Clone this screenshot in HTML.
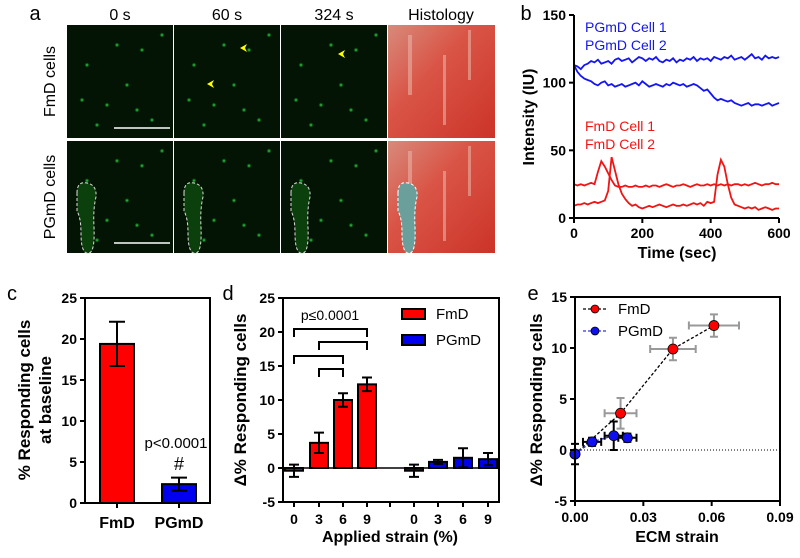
<!DOCTYPE html>
<html><head><meta charset="utf-8"><style>
body{margin:0;background:#fff}
svg{display:block;font-family:"Liberation Sans",Arial,sans-serif}
.tk{font-size:14px;font-weight:bold}
.tt{font-size:16px;font-weight:bold}
</style></head><body>
<svg id="fig" width="800" height="558" viewBox="0 0 800 558" xmlns="http://www.w3.org/2000/svg">
<defs>
<radialGradient id="dot"><stop offset="0" stop-color="#4d4"/><stop offset="1" stop-color="#0a3" stop-opacity="0"/></radialGradient>
<linearGradient id="hist" x1="0" y1="0" x2="1" y2="1"><stop offset="0" stop-color="#d88a7c"/><stop offset="0.4" stop-color="#d95546"/><stop offset="1" stop-color="#cc3328"/></linearGradient>
</defs>
<g id="panelA"></g>
<g id="panelB"></g>
<g id="panelC"></g>
<g id="panelD"></g>
<g id="panelE"></g>
</svg>
<script>
// ---- Panel B data ----
const bTimes = [];
for (let i = 0; i <= 60; i++) bTimes.push(i * 10);
const bPGmD1 = [113,112,110,113,114,116,115,117,114,115,116,114,117,118,116,117,118,115,117,119,118,116,118,117,119,116,115,117,116,118,115,117,116,118,117,119,116,118,117,118,116,119,118,117,119,118,120,117,118,119,117,119,121,118,119,117,120,118,119,118,119];
const bPGmD2 = [113,108,105,103,102,101,99,98,100,101,98,99,97,98,99,97,98,99,100,98,101,99,97,98,99,98,97,99,98,100,99,98,99,97,98,99,98,96,94,95,92,89,87,88,87,86,87,85,84,83,84,85,83,84,84,83,84,85,83,84,85];
const bFmD1 = [25,24,25,24,25,26,25,34,42,38,33,28,24,23,23,24,23,23,24,23,23,24,23,24,24,23,24,25,24,23,24,24,25,24,23,24,25,24,24,25,24,25,24,25,24,25,24,25,25,24,25,24,25,26,25,24,25,25,26,25,25];
const bFmD2 = [9,10,10,11,10,11,12,11,12,13,20,45,35,25,18,14,11,9,10,8,7,8,9,8,9,10,9,8,9,10,9,9,10,9,10,11,10,11,9,12,11,12,32,43,38,25,15,10,9,8,7,8,7,8,6,7,8,7,6,7,7];
const bXTicks = [0,200,400,600];
const bYTicks = [0,50,100,150];
// ---- Panel C data ----
const cCats = ["FmD","PGmD"];
const cVals = [19.4,2.3];
const cErr = [2.7,0.8];
const cYTicks = [0,5,10,15,20,25];
// ---- Panel D data ----
const dCats = ["0","3","6","9"];
const dFmD = [-0.4,3.7,10.0,12.3];
const dFmDErr = [0.9,1.5,1.0,1.0];
const dPGmD = [-0.4,0.9,1.5,1.3];
const dPGmDErr = [0.9,0.3,1.4,0.9];
const dYTicks = [-5,0,5,10,15,20,25];
// ---- Panel E data ----
const eFmDx = [0,0.020,0.043,0.061];
const eFmDy = [-0.4,3.6,9.9,12.2];
const eFmDxErr = [0,0.007,0.010,0.011];
const eFmDyErr = [0,1.5,1.1,1.1];
const ePGx = [0,0.0075,0.017,0.023];
const ePGy = [-0.4,0.8,1.4,1.2];
const ePGxErr = [0,0.004,0.004,0.004];
const ePGyErr = [1.0,0.4,1.4,0.4];
const eXTicks = [0,0.03,0.06,0.09];
const eXLabels = ["0.00","0.03","0.06","0.09"];
const eYTicks = [-5,0,5,10,15];

const NS = "http://www.w3.org/2000/svg";
function mk(parent, tag, attrs, text) {
  const e = document.createElementNS(NS, tag);
  for (const k in attrs) e.setAttribute(k, attrs[k]);
  if (text !== undefined) e.textContent = text;
  parent.appendChild(e);
  return e;
}
function lin(d0, d1, r0, r1) { return v => r0 + (v - d0) * (r1 - r0) / (d1 - d0); }

// ================= Panel A =================
(function () {
  const g = document.getElementById("panelA");
  let t;
  t = mk(g, "text", {x: 35, y: 20, "font-size": 20, "text-anchor": "middle"}, "a");
  
  
  const heads = ["0 s","60 s","324 s","Histology"];
  const xs = [67,174,281,388];
  heads.forEach((h, i) => {
    const tx = mk(g, "text", {x: xs[i] + 53, y: 20, "font-size": 16, "text-anchor": "middle"}, h);
    
    
  });
  const rows = [{y: 25, h: 113, lbl: "FmD cells"}, {y: 141, h: 112, lbl: "PGmD cells"}];
  rows.forEach((r, ri) => {
    const lt = mk(g, "text", {x: 0, y: 0, "font-size": 16, "text-anchor": "middle", transform: `translate(55,${r.y + r.h / 2}) rotate(-90)`}, r.lbl);
    
    
    xs.forEach((x, ci) => {
      const w = ci === 3 ? 107 : 106;
      const im = mk(g, "rect", {x: x, y: r.y, width: w, height: r.h, fill: ci === 3 ? "url(#hist)" : "#041404"});
      
      
      if (ci < 3) {
        const seed = [[20,40],[40,80],[60,60],[75,25],[85,95],[30,100],[50,20],[95,10],[15,75],[70,85]];
        seed.forEach(p => {
          const c = mk(g, "circle", {cx: x + p[0], cy: r.y + (p[1] * r.h / 113), r: 2.5, fill: "url(#dot)"});
          
          
        });
        if (ri === 1) {
          const o = mk(g, "path", {d: `M${x+10},${r.y+52} q0,-12 10,-10 q10,2 9,14 q-3,12 -2,30 q1,25 -5,26 q-8,2 -8,-20 q0,-15 -4,-22 z`, fill: "#0b3f0b", stroke: "#ddd", "stroke-dasharray": "3,2", "stroke-width": 1});
          
          
        }
      } else {
        [[20,10,4,60],[55,30,3,70],[80,5,3,50]].forEach(s => {
          const st = mk(g, "rect", {x: x + s[0], y: r.y + s[1], width: s[2], height: s[3], fill: "#e8b0a4", opacity: 0.6});
          
          
        });
        if (ri === 1) {
          const o = mk(g, "path", {d: `M${x+10},${r.y+52} q0,-12 10,-10 q10,2 9,14 q-3,12 -2,30 q1,25 -5,26 q-8,2 -8,-20 q0,-15 -4,-22 z`, fill: "#6a9f9c", stroke: "#fff", "stroke-dasharray": "3,2", "stroke-width": 1});
          
          
        }
      }
    });
    const sb = mk(g, "line", {x1: 114, x2: 170, y1: r.y + r.h - 10, y2: r.y + r.h - 10, stroke: "#fff", "stroke-width": 1.5});
    
    
  });
  [[240,48],[207,84],[338,54]].forEach(p => {
    const a = mk(g, "polygon", {points: `${p[0]},${p[1]} ${p[0]+7},${p[1]-4} ${p[0]+5},${p[1]} ${p[0]+7},${p[1]+4}`, fill: "#ff0"});
    
    
  });
})();

function axisFrame(g, L, R, T, B, box) {
  const f = mk(g, box ? "rect" : "path", box ? {x: L, y: T, width: R - L, height: B - T, fill: "none", stroke: "#000", "stroke-width": 2} : {d: `M${L},${T}V${B}H${R}`, fill: "none", stroke: "#000", "stroke-width": 2});
  
  
}
function yTicks(g, ticks, y, L, fmt) {
  ticks.forEach(v => {
    const l = mk(g, "line", {x1: L - 5, x2: L, y1: y(v), y2: y(v), stroke: "#000", "stroke-width": 2});
    
    
    const t = mk(g, "text", {x: L - 8, y: y(v) + 5, "text-anchor": "end", class: "tk"}, fmt ? fmt(v) : v);
    
    
  });
}
function label(g, txt, x, y, name, size, rot) {
  const t = mk(g, "text", {x: 0, y: 0, "text-anchor": "middle", "font-size": size || 20, transform: `translate(${x},${y})${rot ? " rotate(-90)" : ""}`}, txt);
  
  
  return t;
}
function errV(g, x, y1, y2, w, color) {
  const p = mk(g, "path", {d: `M${x},${y1}V${y2}M${x-w},${y1}H${x+w}M${x-w},${y2}H${x+w}`, stroke: color, "stroke-width": 2, fill: "none"});
  
  
}
function errH(g, y, x1, x2, h, color) {
  const p = mk(g, "path", {d: `M${x1},${y}H${x2}M${x1},${y-h}V${y+h}M${x2},${y-h}V${y+h}`, stroke: color, "stroke-width": 2, fill: "none"});
  
  
}

// ================= Panel B =================
(function () {
  const g = document.getElementById("panelB");
  const L = 574, R = 779, T = 15, B = 218;
  const x = lin(0, 600, L, R), y = lin(0, 150, B, T);
  label(g, "b", 526, 20, "panel-b-label", 20);
  const series = [[bPGmD1,"#1515f0","pgmd-cell-1-line"],[bPGmD2,"#1515f0","pgmd-cell-2-line"],[bFmD1,"#f01515","fmd-cell-1-line"],[bFmD2,"#f01515","fmd-cell-2-line"]];
  series.forEach(s => {
    const d = s[0].map((v, i) => (i ? "L" : "M") + x(bTimes[i]).toFixed(1) + "," + y(v).toFixed(1)).join("");
    const p = mk(g, "path", {d: d, fill: "none", stroke: s[1], "stroke-width": 1.8});
    
    
  });
  axisFrame(g, L, R, T, B, false);
  yTicks(g, bYTicks, y, L);
  bXTicks.forEach(v => {
    const l = mk(g, "line", {x1: x(v), x2: x(v), y1: B, y2: B + 5, stroke: "#000", "stroke-width": 2});
    
    
    const t = mk(g, "text", {x: x(v), y: B + 20, "text-anchor": "middle", class: "tk"}, v);
    
    
  });
  label(g, "Time (sec)", 677, 258, "x-axis-title", 16).setAttribute("font-weight", "bold");
  label(g, "Intensity (IU)", 534, 117, "y-axis-title", 16, true).setAttribute("font-weight", "bold");
  [["PGmD Cell 1",32,"#1515f0"],["PGmD Cell 2",50,"#1515f0"],["FmD Cell 1",131,"#f01515"],["FmD Cell 2",149,"#f01515"]].forEach(l => {
    const t = mk(g, "text", {x: 585, y: l[1], "font-size": 14, fill: l[2]}, l[0]);
    
    
  });
})();

// ================= Panel C =================
(function () {
  const g = document.getElementById("panelC");
  const L = 85, R = 210, T = 298, B = 503;
  const y = lin(0, 25, B, T);
  label(g, "c", 12, 300, "panel-c-label", 20);
  const cx = [117, 179], colors = ["#ff0000", "#0000ee"];
  cCats.forEach((c, i) => {
    const r = mk(g, "rect", {x: cx[i] - 17, y: y(cVals[i]), width: 34, height: B - y(cVals[i]), fill: colors[i], stroke: "#000", "stroke-width": 2});
    
    
    errV(g, cx[i], y(cVals[i] + cErr[i]), y(cVals[i] - cErr[i]), 8, "#000");
    const l = mk(g, "line", {x1: cx[i], x2: cx[i], y1: B, y2: B + 5, stroke: "#000", "stroke-width": 2});
    
    
    const t = mk(g, "text", {x: cx[i], y: B + 25, "text-anchor": "middle", class: "tt"}, c);
    
    
  });
  axisFrame(g, L, R, T, B, true);
  yTicks(g, cYTicks, y, L);
  label(g, "p<0.0001", 176, 448, "p-value-annotation", 15);
  label(g, "#", 179, 470, "significance-marker", 18);
  label(g, "% Responding cells", 30, 400, "y-axis-title-line-1", 17, true).setAttribute("font-weight", "bold");
  label(g, "at baseline", 51, 400, "y-axis-title-line-2", 17, true).setAttribute("font-weight", "bold");
})();

// ================= Panel D =================
(function () {
  const g = document.getElementById("panelD");
  const L = 283, R = 499, T = 298, B = 502;
  const y = lin(-5, 25, B, T);
  label(g, "d", 228, 300, "panel-d-label", 20);
  const fx = [294, 319, 343, 367], px = [414, 438, 463, 488];
  const zero = y(0);
  const zl = mk(g, "line", {x1: L, x2: R, y1: zero, y2: zero, stroke: "#000", "stroke-width": 1.5});
  
  
  function bars(vals, errs, xs, color, name) {
    vals.forEach((v, i) => {
      const top = Math.min(y(v), zero), h = Math.abs(y(v) - zero);
      const r = mk(g, "rect", {x: xs[i] - 9, y: top, width: 18, height: h, fill: color, stroke: "#000", "stroke-width": 2});
      
      
      errV(g, xs[i], y(v + errs[i]), y(v - errs[i]), 5, "#000");
    });
  }
  bars(dFmD, dFmDErr, fx, "#ff0000", "fmd");
  bars(dPGmD, dPGmDErr, px, "#0000ee", "pgmd");
  axisFrame(g, L, R, T, B, true);
  yTicks(g, dYTicks, y, L);
  fx.concat([390], px).forEach((xx, i) => {
    const l = mk(g, "line", {x1: xx, x2: xx, y1: B, y2: B + 5, stroke: "#000", "stroke-width": 2});
    
    
  });
  fx.concat(px).forEach((xx, i) => {
    const t = mk(g, "text", {x: xx, y: B + 22, "text-anchor": "middle", class: "tk"}, dCats[i % 4]);
    
    
  });
  [[0,3,329],[1,3,342],[0,2,356],[1,2,369]].forEach(b => {
    const p = mk(g, "path", {d: `M${fx[b[0]]},${b[2]+8}V${b[2]}H${fx[b[1]]}V${b[2]+8}`, fill: "none", stroke: "#000", "stroke-width": 2});
    
    
  });
  label(g, "p\u22640.0001", 330, 320, "p-value-annotation", 14);
  [["FmD","#ff0000",309],["PGmD","#0000ee",335]].forEach(l => {
    const r = mk(g, "rect", {x: 402, y: l[2], width: 23, height: 10, fill: l[1], stroke: "#000", "stroke-width": 2});
    
    
    const t = mk(g, "text", {x: 436, y: l[2] + 10, "font-size": 15}, l[0]);
    
    
  });
  label(g, "Applied strain (%)", 390, 542, "x-axis-title", 16).setAttribute("font-weight", "bold");
  label(g, "\u0394% Responding cells", 246, 400, "y-axis-title", 17, true).setAttribute("font-weight", "bold");
})();

// ================= Panel E =================
(function () {
  const g = document.getElementById("panelE");
  const L = 575, R = 780, T = 297, B = 501;
  const x = lin(0, 0.09, L, R), y = lin(-5, 15, B, T);
  label(g, "e", 533, 300, "panel-e-label", 20);
  const zl = mk(g, "line", {x1: L, x2: R, y1: y(0), y2: y(0), stroke: "#000", "stroke-width": 1, "stroke-dasharray": "1,2"});
  
  
  function series(xs, ys, xe, ye, color, ecol, name) {
    const d = xs.map((v, i) => (i ? "L" : "M") + x(v).toFixed(1) + "," + y(ys[i]).toFixed(1)).join("");
    const p = mk(g, "path", {d: d, fill: "none", stroke: color === "#ff0000" ? "#000" : "#3030e0", "stroke-width": 1.3, "stroke-dasharray": "3,2"});
    
    
    xs.forEach((v, i) => {
      if (xe[i] > 0) errH(g, y(ys[i]), x(v - xe[i]), x(v + xe[i]), 4, ecol);
      if (ye[i] > 0) errV(g, x(v), y(ys[i] + ye[i]), y(ys[i] - ye[i]), 4, ecol);
    });
    xs.forEach((v, i) => {
      const c = mk(g, "circle", {cx: x(v), cy: y(ys[i]), r: 5, fill: color, stroke: "#000", "stroke-width": 0.8});
      
      
    });
  }
  series(eFmDx, eFmDy, eFmDxErr, eFmDyErr, "#ff0000", "#999", "fmd");
  series(ePGx, ePGy, ePGxErr, ePGyErr, "#1010ee", "#000", "pgmd");
  axisFrame(g, L, R, T, B, true);
  yTicks(g, eYTicks, y, L);
  eXTicks.forEach((v, i) => {
    const l = mk(g, "line", {x1: x(v), x2: x(v), y1: B, y2: B + 5, stroke: "#000", "stroke-width": 2});
    
    
    const t = mk(g, "text", {x: x(v), y: B + 21, "text-anchor": "middle", class: "tk"}, eXLabels[i]);
    
    
  });
  [["FmD","#ff0000","#000",309],["PGmD","#1010ee","#3030e0",331]].forEach(l => {
    const ln = mk(g, "line", {x1: 583, x2: 607, y1: l[3], y2: l[3], stroke: l[2], "stroke-width": 1.3, "stroke-dasharray": "3,2"});
    
    
    const c = mk(g, "circle", {cx: 595, cy: l[3], r: 4, fill: l[1], stroke: "#000", "stroke-width": 0.8});
    
    
    const t = mk(g, "text", {x: 618, y: l[3] + 5, "font-size": 15}, l[0]);
    
    
  });
  label(g, "ECM strain", 677, 542, "x-axis-title", 16).setAttribute("font-weight", "bold");
  label(g, "\u0394% Responding cells", 542, 400, "y-axis-title", 17, true).setAttribute("font-weight", "bold");
})();
</script>
</body></html>
